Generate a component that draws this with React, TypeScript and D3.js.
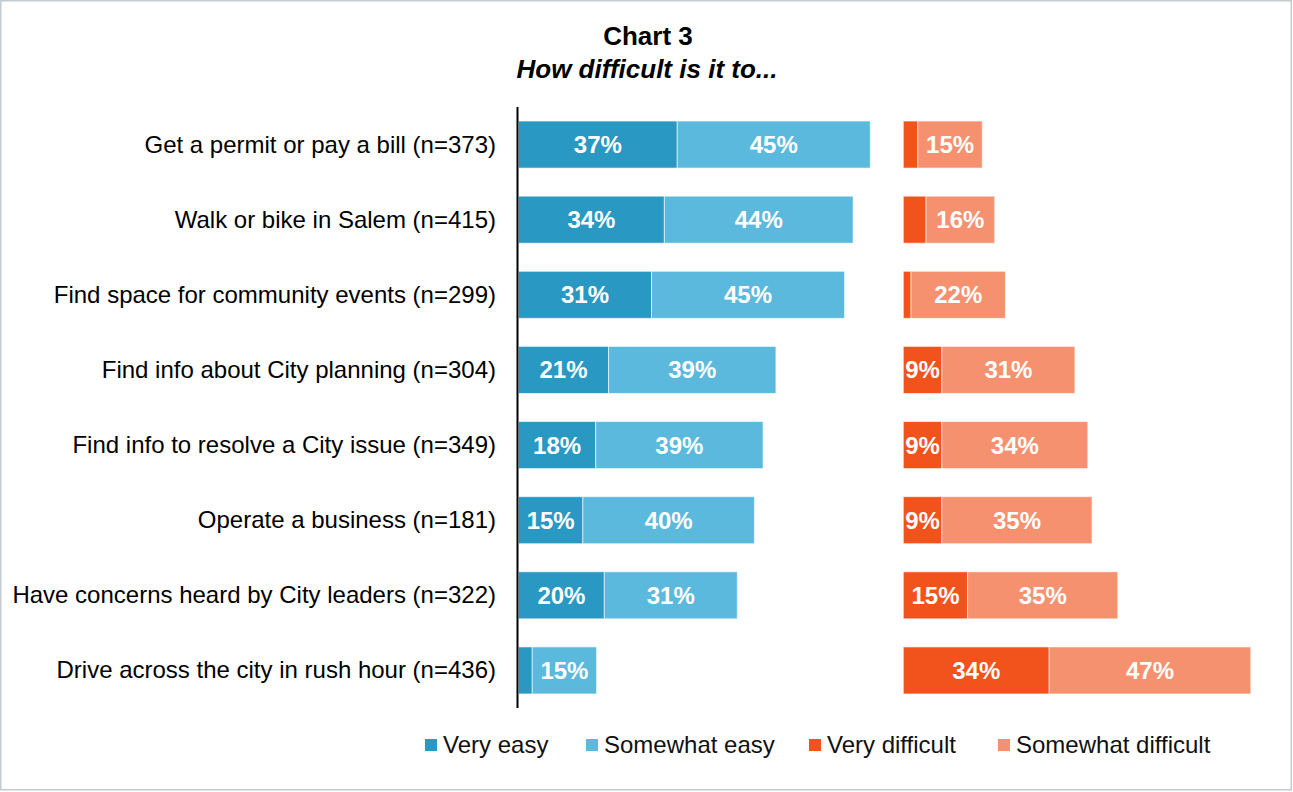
import { useRef, useEffect } from 'react';
import * as d3 from 'd3';

// Categories (top to bottom)
const categories: string[] = [
  'Get a permit or pay a bill (n=373)',
  'Walk or bike in Salem (n=415)',
  'Find space for community events (n=299)',
  'Find info about City planning (n=304)',
  'Find info to resolve a City issue (n=349)',
  'Operate a business (n=181)',
  'Have concerns heard by City leaders (n=322)',
  'Drive across the city in rush hour (n=436)',
];

// Percent values per series
const veryEasy: number[] = [37, 34, 31, 21, 18, 15, 20, 3.2];
const somewhatEasy: number[] = [45, 44, 45, 39, 39, 40, 31, 15];
const veryDifficult: number[] = [3.4, 5.3, 1.8, 9, 9, 9, 15, 34];
const somewhatDifficult: number[] = [15, 16, 22, 31, 34, 35, 35, 47];

const seriesNames: string[] = ['Very easy', 'Somewhat easy', 'Very difficult', 'Somewhat difficult'];
const seriesColors: string[] = ['#2998C2', '#5BB9DD', '#F2521B', '#F5916F'];

export default function App() {
  const chartRef = useRef<SVGSVGElement | null>(null);

  useEffect(() => {
    if (!chartRef.current) return;

    const width = 1293;
    const height = 792;
    const font = '"Liberation Sans", Arial, sans-serif';

    const svg = d3.select(chartRef.current)
      .attr('width', width)
      .attr('height', height);
    svg.selectAll('*').remove();

    svg.append('rect')
      .attr('width', width)
      .attr('height', height)
      .attr('fill', '#fff');

    // outer frame
    svg.append('rect')
      .attr('x', 0.75)
      .attr('y', 0.75)
      .attr('width', 1290.5)
      .attr('height', 789)
      .attr('fill', 'none')
      .attr('stroke', '#C3CAD1')
      .attr('stroke-width', 1.5);

    // titles
    svg.append('text')
      .text('Chart 3')
      .attr('x', 648)
      .attr('y', 45)
      .attr('text-anchor', 'middle')
      .attr('font-family', font)
      .attr('font-weight', 'bold')
      .attr('font-size', '26px')
      .attr('fill', '#000');

    svg.append('text')
      .text('How difficult is it to...')
      .attr('x', 647)
      .attr('y', 78)
      .attr('text-anchor', 'middle')
      .attr('font-family', font)
      .attr('font-weight', 'bold')
      .attr('font-style', 'italic')
      .attr('font-size', '26px')
      .attr('fill', '#000');

    // scales
    const yScale = d3.scaleBand<string>()
      .domain(categories)
      .range([107, 708])
      .paddingInner(0.374)
      .paddingOuter(0.187);

    const xScale = d3.scaleLinear<number, number>()
      .domain([0, 100])
      .range([0, 429]);

    const easyOrigin = 518.5;
    const diffOrigin = 903.3;

    const rows = categories.map((c, i) => ({
      cat: c,
      'Very easy': veryEasy[i],
      'Somewhat easy': somewhatEasy[i],
      'Very difficult': veryDifficult[i],
      'Somewhat difficult': somewhatDifficult[i],
    }));

    const groups = [
      { keys: ['Very easy', 'Somewhat easy'], origin: easyOrigin },
      { keys: ['Very difficult', 'Somewhat difficult'], origin: diffOrigin },
    ];

    groups.forEach((g) => {
      const stacked = d3.stack<any>().keys(g.keys)(rows);
      stacked.forEach((layer) => {
        const color = seriesColors[seriesNames.indexOf(layer.key)];
        const gl = svg.append('g');
        gl.selectAll('rect')
          .data(layer)
          .enter()
          .append('rect')
          .attr('x', (d) => g.origin + xScale(d[0]))
          .attr('y', (d) => yScale(d.data.cat) || 0)
          .attr('width', (d) => xScale(d[1]) - xScale(d[0]))
          .attr('height', yScale.bandwidth())
          .attr('fill', color)
          .attr('stroke', 'rgba(255,255,255,0.6)')
          .attr('stroke-width', 1);

        gl.selectAll('text')
          .data(layer.filter((d) => d[1] - d[0] >= 8))
          .enter()
          .append('text')
          .text((d) => Math.round(d[1] - d[0]) + '%')
          .attr('x', (d) => g.origin + xScale((d[0] + d[1]) / 2))
          .attr('y', (d) => (yScale(d.data.cat) || 0) + yScale.bandwidth() / 2 + 8.5)
          .attr('text-anchor', 'middle')
          .attr('font-family', font)
          .attr('font-weight', 'bold')
          .attr('font-size', '24px')
          .attr('fill', '#fff');
      });
    });

    // vertical axis line
    svg.append('line')
      .attr('x1', 517.5)
      .attr('x2', 517.5)
      .attr('y1', yScale.range()[0])
      .attr('y2', yScale.range()[1])
      .attr('stroke', '#000')
      .attr('stroke-width', 2);

    // category labels
    svg.append('g')
      .selectAll('text')
      .data(categories)
      .enter()
      .append('text')
      .text((d) => d)
      .attr('x', 496)
      .attr('y', (d) => (yScale(d) || 0) + yScale.bandwidth() / 2 + 8)
      .attr('text-anchor', 'end')
      .attr('font-family', font)
      .attr('font-size', '24px')
      .attr('fill', '#000');

    // legend
    const legendX = [425, 586, 809, 998];
    const legend = svg.append('g')
      .selectAll('g')
      .data(seriesNames)
      .enter()
      .append('g')
      .attr('transform', (_d, i) => `translate(${legendX[i]},745)`);

    legend.append('rect')
      .attr('x', 0)
      .attr('y', -6)
      .attr('width', 12)
      .attr('height', 12)
      .attr('fill', (_d, i) => seriesColors[i]);

    legend.append('text')
      .text((d) => d)
      .attr('x', 18)
      .attr('y', 8)
      .attr('font-family', font)
      .attr('font-size', '24px')
      .attr('fill', '#111');
  }, []);

  return (
    <div>
      <svg ref={chartRef} style={{ display: 'block', position: 'absolute', left: 0, top: 0 }}></svg>
    </div>
  );
}
